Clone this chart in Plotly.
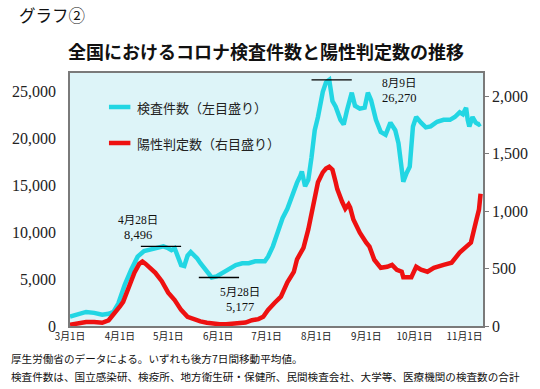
import plotly.graph_objects as go
import pandas as pd

# ---- data ----
start = pd.Timestamp("2020-03-01")

test_days = [0, 5, 10, 15, 20, 24, 27, 30, 34, 38, 42, 46, 50, 54, 58, 61, 63, 65, 67, 69,
             71, 73, 75, 77, 79, 81, 84, 86, 88, 91, 95, 99, 103, 107, 111, 115, 119, 121,
             123, 126, 129, 132, 135, 138, 141, 143, 144, 146, 148, 150, 152, 154, 157, 159,
             161, 163, 165, 168, 170, 172, 174, 175, 177, 180, 183, 185, 187, 190, 193, 196,
             199, 202, 204, 206, 207, 209, 211, 213, 215, 218, 221, 224, 228, 232, 236, 239,
             242, 244, 246, 247, 248, 250, 252, 254, 255]
test_values = [1000, 1300, 1500, 1400, 1200, 1300, 1500, 2400, 4400, 6000, 7400, 8000, 8200,
               8300, 8496, 8300, 8100, 8300, 7200, 6500, 6400, 7500, 7900, 7600, 7200, 6700,
               6000, 5500, 5177, 5300, 5700, 6100, 6500, 6700, 6700, 6900, 6900, 6900, 7400,
               8500, 10000, 11500, 12500, 14000, 15300, 16000, 16500, 14900, 15600, 18000,
               20900, 22300, 25000, 26000, 26270, 24000, 23400, 22000, 21500, 23000, 24300,
               24900, 23500, 23200, 23300, 24900, 24100, 22000, 20700, 20400, 21700, 20900,
               19500, 16500, 15400, 16300, 17000, 21300, 22300, 21700, 21200, 21300, 21800,
               22000, 22000, 22300, 22800, 22600, 23300, 22000, 21300, 22300, 21700, 21500, 21600]

pos_days = [0, 5, 10, 15, 20, 24, 28, 31, 33, 36, 40, 43, 45, 47, 50, 53, 57, 61, 65, 69, 73,
            77, 81, 85, 89, 93, 97, 101, 105, 109, 113, 117, 120, 123, 127, 131, 135, 139, 141,
            145, 148, 151, 154, 157, 159, 161, 163, 165, 166, 169, 171, 173, 174, 176, 180, 184,
            186, 189, 193, 197, 200, 203, 206, 207, 212, 215, 218, 222, 226, 232, 237, 242, 246,
            249, 252, 254, 255]
pos_values = [10, 20, 35, 35, 28, 50, 113, 170, 210, 314, 463, 540, 560, 540, 500, 463, 390,
              290, 225, 140, 80, 55, 40, 28, 18, 15, 15, 22, 25, 30, 50, 60, 80, 140, 200, 255,
              380, 470, 580, 680, 840, 1050, 1250, 1336, 1370, 1385, 1360, 1250, 1190, 1080,
              1020, 1057, 1030, 926, 812, 725, 690, 576, 506, 515, 532, 489, 472, 425, 425, 515,
              489, 472, 506, 532, 550, 638, 690, 725, 900, 1013, 1150]

tick_dates = ["2020-03-01", "2020-04-01", "2020-05-01", "2020-06-01", "2020-07-01",
              "2020-08-01", "2020-09-01", "2020-10-01", "2020-11-01"]
tick_labels = ["3月1日", "4月1日", "5月1日", "6月1日", "7月1日", "8月1日", "9月1日", "10月1日", "11月1日"]

note_dates = ["2020-04-28", "2020-05-28", "2020-08-09"]
note_labels = ["4月28日", "5月28日", "8月9日"]
note_values = [8496, 5177, 26270]

title = "全国におけるコロナ検査件数と陽性判定数の推移"
test_name = "検査件数（左目盛り）"
pos_name = "陽性判定数（右目盛り）"
footer1 = "厚生労働省のデータによる。いずれも後方7日間移動平均値。"
footer2 = "検査件数は、国立感染研、検疫所、地方衛生研・保健所、民間検査会社、大学等、医療機関の検査数の合計"

# ---- layout constants ----
W, H = 540, 389
L, R, T, B = 63, 53, 73, 63
PW, PH = W - L - R, H - T - B

def px(x):
    return (x - L) / PW

def py(y):
    return (H - B - y) / PH

CYAN = "#22D6E3"
RED = "#EE1111"
SERIF = "Liberation Serif, Noto Sans CJK JP, serif"
SANS = "Noto Sans CJK JP, sans-serif"

test_x = [start + pd.Timedelta(days=d) for d in test_days]
pos_x = [start + pd.Timedelta(days=d) for d in pos_days]

fig = go.Figure()
fig.add_trace(go.Scatter(x=test_x, y=test_values, mode="lines", name=test_name,
                         line=dict(color=CYAN, width=4.5), yaxis="y", showlegend=False))
fig.add_trace(go.Scatter(x=pos_x, y=pos_values, mode="lines", name=pos_name,
                         line=dict(color=RED, width=4.5), yaxis="y2", showlegend=False))

# reference lines at annotated values
for d, v in zip(note_dates, note_values):
    c = pd.Timestamp(d)
    if v == 8496:
        a, b = c - pd.Timedelta(days=14), c + pd.Timedelta(days=11)
    elif v == 5177:
        a, b = c - pd.Timedelta(days=8), c + pd.Timedelta(days=17)
    else:
        a, b = c - pd.Timedelta(days=11), c + pd.Timedelta(days=14)
    fig.add_trace(go.Scatter(x=[a, b], y=[v, v], mode="lines", yaxis="y",
                             line=dict(color="black", width=1.3), showlegend=False,
                             hoverinfo="skip"))

anns = []
note_pos = [(133, 220, 235), (238, 292, 307), (401, 83, 98)]
for (lab, v, (x, y1, y2)) in zip(note_labels, note_values, note_pos):
    anns.append(dict(text=lab, x=px(x), y=py(y1), xref="paper", yref="paper",
                     showarrow=False, font=dict(family=SERIF, size=11.5, color="#111"),
                     xanchor="center", yanchor="middle"))
    anns.append(dict(text=f"{v:,}", x=px(x), y=py(y2), xref="paper", yref="paper",
                     showarrow=False, font=dict(family=SERIF, size=12.5, color="#111"),
                     xanchor="center", yanchor="middle"))

# legend (manual)
shapes = []
for (name, col, y) in [(test_name, CYAN, 107), (pos_name, RED, 143)]:
    shapes.append(dict(type="line", xref="paper", yref="paper", x0=px(103), x1=px(125),
                       y0=py(y), y1=py(y), line=dict(color=col, width=4.5)))
    anns.append(dict(text=name, x=px(130), y=py(y), xref="paper", yref="paper",
                     showarrow=False, xanchor="left", yanchor="middle",
                     font=dict(family=SANS, size=13, color="#222")))

anns.append(dict(text="グラフ②", x=px(9), y=py(15), xref="paper", yref="paper",
                 showarrow=False, xanchor="left", yanchor="middle",
                 font=dict(family=SANS, size=16.5, color="#111")))
anns.append(dict(text=f"<b>{title}</b>", x=px(264), y=py(51), xref="paper", yref="paper",
                 showarrow=False, xanchor="center", yanchor="middle",
                 font=dict(family=SANS, size=18, color="#111")))
anns.append(dict(text=footer1, x=px(0), y=py(358),
                 xref="paper", yref="paper", showarrow=False, xanchor="left", yanchor="middle",
                 font=dict(family=SANS, size=10.6, color="#111")))
anns.append(dict(text=footer2, x=px(0), y=py(376), xref="paper", yref="paper", showarrow=False,
                 xanchor="left", yanchor="middle",
                 font=dict(family=SANS, size=10.6, color="#111")))

fig.update_layout(
    width=W, height=H, margin=dict(l=L, r=R, t=T, b=B),
    paper_bgcolor="white", plot_bgcolor="#DDF4F8",
    showlegend=False,
    xaxis=dict(type="date", range=["2020-03-01", "2020-11-12 12:00"],
               tickvals=tick_dates, ticktext=tick_labels, showgrid=False, zeroline=False,
               showline=True, linecolor="#7a7a7a", linewidth=1.5, mirror=True,
               ticks="", tickfont=dict(family=SANS, size=9.8, color="#222")),
    yaxis=dict(range=[0, 27000], dtick=5000, tickformat=",", showgrid=False, zeroline=False,
               showline=True, linecolor="#7a7a7a", linewidth=1.5, ticks="",
               ticklabelstandoff=9,
               tickfont=dict(family=SERIF, size=16, color="#222")),
    yaxis2=dict(range=[0, 2200], dtick=500, tickformat=",", overlaying="y", side="right",
                showgrid=False, zeroline=False, showline=True, linecolor="#7a7a7a",
                linewidth=1.5, ticks="outside", ticklen=4, tickcolor="#7a7a7a",
                tickfont=dict(family=SERIF, size=16, color="#222")),
    annotations=anns, shapes=shapes,
)

fig.write_html("out.html", config={"displayModeBar": False},
               post_script="document.body.style.margin='0';")
